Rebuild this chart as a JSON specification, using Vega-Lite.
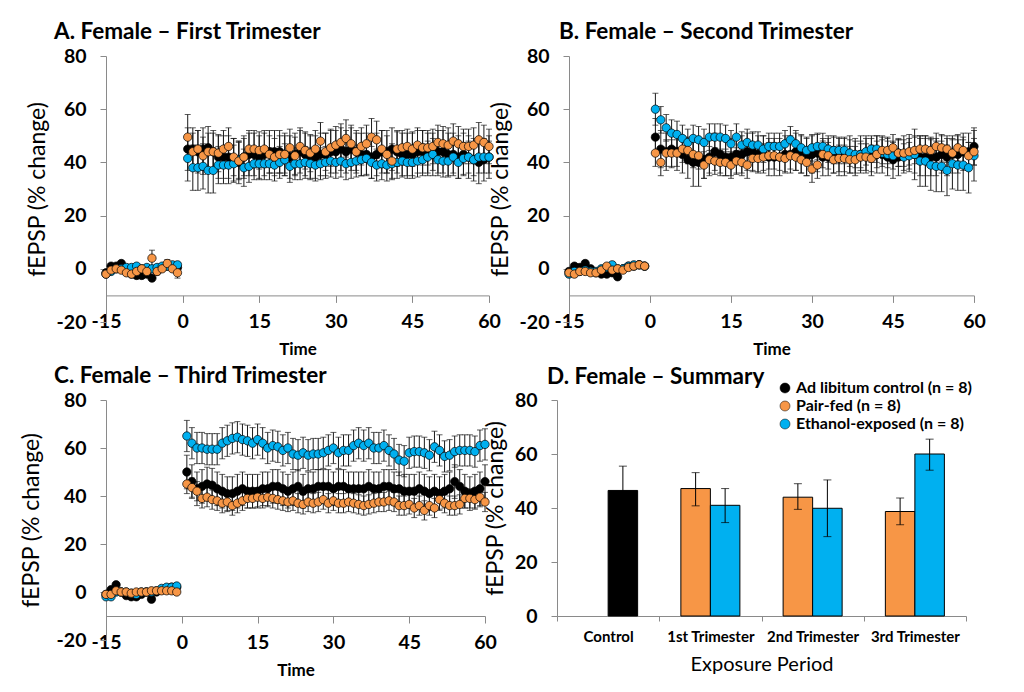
{
"$schema":"https://vega.github.io/schema/vega-lite/v6.json",
"padding":{"left":20,"top":20,"right":5,"bottom":5},
"config":{"font":"Lato","view":{"stroke":null},"axis":{"grid":false,"domainColor":"#8a8a8a","tickColor":"#8a8a8a","labelColor":"black","titleColor":"black","labelFont":"Lato","titleFont":"Lato"}},
"resolve":{"scale":{"color":"independent"},"legend":{"color":"independent"}},
"datasets":{
"dA":[
{"g":"C","t":-15,"y":-1.5,"e":1},{"g":"C","t":-14,"y":1,"e":1},{"g":"C","t":-13,"y":1,"e":1},{"g":"C","t":-12,"y":2,"e":1},{"g":"C","t":-11,"y":0,"e":1},{"g":"C","t":-10,"y":-2,"e":1},{"g":"C","t":-9,"y":-2.5,"e":1},{"g":"C","t":-8,"y":-2.5,"e":1},{"g":"C","t":-7,"y":-2,"e":1},{"g":"C","t":-6,"y":-3.5,"e":1},{"g":"C","t":-5,"y":-1,"e":1},{"g":"C","t":-4,"y":0.5,"e":1},{"g":"C","t":-3,"y":1,"e":1},{"g":"C","t":-2,"y":1,"e":1},{"g":"C","t":-1,"y":0.5,"e":1},
{"g":"C","t":1,"y":45,"e":8},{"g":"C","t":2,"y":45,"e":8},{"g":"C","t":3,"y":44,"e":8},{"g":"C","t":4,"y":45,"e":8},{"g":"C","t":5,"y":45.5,"e":8},{"g":"C","t":6,"y":44,"e":8},{"g":"C","t":7,"y":42,"e":8},{"g":"C","t":8,"y":42,"e":8},{"g":"C","t":9,"y":42,"e":8},{"g":"C","t":10,"y":41,"e":8},
{"g":"C","t":11,"y":40,"e":8},{"g":"C","t":12,"y":42,"e":8},{"g":"C","t":13,"y":43,"e":8},{"g":"C","t":14,"y":43,"e":8},{"g":"C","t":15,"y":42,"e":8},{"g":"C","t":16,"y":43,"e":8},{"g":"C","t":17,"y":44,"e":8},{"g":"C","t":18,"y":44,"e":8},{"g":"C","t":19,"y":44,"e":8},{"g":"C","t":20,"y":43,"e":8},
{"g":"C","t":21,"y":42,"e":8},{"g":"C","t":22,"y":43,"e":8},{"g":"C","t":23,"y":44,"e":8},{"g":"C","t":24,"y":43,"e":8},{"g":"C","t":25,"y":42,"e":8},{"g":"C","t":26,"y":42,"e":8},{"g":"C","t":27,"y":43,"e":8},{"g":"C","t":28,"y":43,"e":8},{"g":"C","t":29,"y":44,"e":8},{"g":"C","t":30,"y":44,"e":8},
{"g":"C","t":31,"y":45,"e":8},{"g":"C","t":32,"y":44,"e":8},{"g":"C","t":33,"y":45,"e":8},{"g":"C","t":34,"y":44,"e":8},{"g":"C","t":35,"y":43,"e":8},{"g":"C","t":36,"y":43,"e":8},{"g":"C","t":37,"y":42,"e":8},{"g":"C","t":38,"y":43,"e":8},{"g":"C","t":39,"y":44,"e":8},{"g":"C","t":40,"y":44,"e":8},
{"g":"C","t":41,"y":45,"e":8},{"g":"C","t":42,"y":44,"e":8},{"g":"C","t":43,"y":43,"e":8},{"g":"C","t":44,"y":43,"e":8},{"g":"C","t":45,"y":43,"e":8},{"g":"C","t":46,"y":44,"e":8},{"g":"C","t":47,"y":44,"e":8},{"g":"C","t":48,"y":43,"e":8},{"g":"C","t":49,"y":43,"e":8},{"g":"C","t":50,"y":44,"e":8},
{"g":"C","t":51,"y":44,"e":8},{"g":"C","t":52,"y":43,"e":8},{"g":"C","t":53,"y":43,"e":8},{"g":"C","t":54,"y":42,"e":8},{"g":"C","t":55,"y":43,"e":8},{"g":"C","t":56,"y":42,"e":8},{"g":"C","t":57,"y":41,"e":8},{"g":"C","t":58,"y":40,"e":8},{"g":"C","t":59,"y":41,"e":8},{"g":"C","t":60,"y":42,"e":8},
{"g":"E","t":-15,"y":-2,"e":1},{"g":"E","t":-14,"y":-1,"e":1},{"g":"E","t":-13,"y":0,"e":1},{"g":"E","t":-12,"y":0,"e":1},{"g":"E","t":-11,"y":0.5,"e":1},{"g":"E","t":-10,"y":0.5,"e":1},{"g":"E","t":-9,"y":1,"e":1},{"g":"E","t":-8,"y":0,"e":1},{"g":"E","t":-7,"y":0.5,"e":1},{"g":"E","t":-6,"y":0,"e":1},{"g":"E","t":-5,"y":0.5,"e":1},{"g":"E","t":-4,"y":1,"e":1},{"g":"E","t":-3,"y":1,"e":1},{"g":"E","t":-2,"y":1.5,"e":1},{"g":"E","t":-1,"y":1.5,"e":1},
{"g":"E","t":1,"y":41.5,"e":8.5},{"g":"E","t":2,"y":38,"e":8.5},{"g":"E","t":3,"y":38,"e":8.5},{"g":"E","t":4,"y":38.5,"e":8.5},{"g":"E","t":5,"y":37,"e":8.5},{"g":"E","t":6,"y":37,"e":8.5},{"g":"E","t":7,"y":39,"e":7},{"g":"E","t":8,"y":39,"e":7},{"g":"E","t":9,"y":39,"e":7},{"g":"E","t":10,"y":39.5,"e":7},
{"g":"E","t":11,"y":41,"e":7},{"g":"E","t":12,"y":38,"e":7},{"g":"E","t":13,"y":38.5,"e":6},{"g":"E","t":14,"y":39.5,"e":6},{"g":"E","t":15,"y":39.5,"e":6},{"g":"E","t":16,"y":39.5,"e":6},{"g":"E","t":17,"y":39.5,"e":6},{"g":"E","t":18,"y":39,"e":6},{"g":"E","t":19,"y":40,"e":6},{"g":"E","t":20,"y":41,"e":6},
{"g":"E","t":21,"y":38.5,"e":6},{"g":"E","t":22,"y":39.5,"e":6},{"g":"E","t":23,"y":39.5,"e":6},{"g":"E","t":24,"y":40,"e":6},{"g":"E","t":25,"y":39.5,"e":6},{"g":"E","t":26,"y":39,"e":6},{"g":"E","t":27,"y":39.5,"e":6},{"g":"E","t":28,"y":40,"e":6},{"g":"E","t":29,"y":40.5,"e":6},{"g":"E","t":30,"y":40,"e":6},
{"g":"E","t":31,"y":40.5,"e":6},{"g":"E","t":32,"y":39.5,"e":6},{"g":"E","t":33,"y":40,"e":6},{"g":"E","t":34,"y":40.5,"e":6},{"g":"E","t":35,"y":41,"e":6},{"g":"E","t":36,"y":41.5,"e":6},{"g":"E","t":37,"y":40,"e":6},{"g":"E","t":38,"y":39,"e":6},{"g":"E","t":39,"y":39.5,"e":6},{"g":"E","t":40,"y":39,"e":6},
{"g":"E","t":41,"y":39.5,"e":6},{"g":"E","t":42,"y":40,"e":6},{"g":"E","t":43,"y":40.5,"e":6},{"g":"E","t":44,"y":40,"e":6},{"g":"E","t":45,"y":40,"e":6},{"g":"E","t":46,"y":40.5,"e":6},{"g":"E","t":47,"y":41,"e":6},{"g":"E","t":48,"y":42,"e":6},{"g":"E","t":49,"y":43,"e":6},{"g":"E","t":50,"y":41,"e":6},
{"g":"E","t":51,"y":40.5,"e":6},{"g":"E","t":52,"y":40.5,"e":6},{"g":"E","t":53,"y":42,"e":6},{"g":"E","t":54,"y":40,"e":6},{"g":"E","t":55,"y":41.5,"e":6},{"g":"E","t":56,"y":42,"e":6},{"g":"E","t":57,"y":41,"e":6},{"g":"E","t":58,"y":42,"e":6},{"g":"E","t":59,"y":42,"e":6},{"g":"E","t":60,"y":42,"e":6},
{"g":"P","t":-15,"y":-2,"e":1},{"g":"P","t":-14,"y":-0.5,"e":1},{"g":"P","t":-13,"y":0,"e":1},{"g":"P","t":-12,"y":-0.5,"e":1},{"g":"P","t":-11,"y":-1.5,"e":1},{"g":"P","t":-10,"y":-2,"e":1},{"g":"P","t":-9,"y":-1,"e":1},{"g":"P","t":-8,"y":0,"e":1},{"g":"P","t":-7,"y":-1,"e":1},{"g":"P","t":-6,"y":4,"e":3},{"g":"P","t":-5,"y":-1,"e":1},{"g":"P","t":-4,"y":0,"e":1},{"g":"P","t":-3,"y":2,"e":1.5},{"g":"P","t":-2,"y":0,"e":1},{"g":"P","t":-1,"y":-1.5,"e":2},
{"g":"P","t":1,"y":49.5,"e":8.5},{"g":"P","t":2,"y":44,"e":7},{"g":"P","t":3,"y":45,"e":7},{"g":"P","t":4,"y":42.5,"e":7},{"g":"P","t":5,"y":44,"e":7},{"g":"P","t":6,"y":44,"e":7},{"g":"P","t":7,"y":43.5,"e":7},{"g":"P","t":8,"y":45,"e":7},{"g":"P","t":9,"y":46,"e":7},{"g":"P","t":10,"y":42,"e":7},
{"g":"P","t":11,"y":40.5,"e":7},{"g":"P","t":12,"y":42,"e":7},{"g":"P","t":13,"y":45,"e":7},{"g":"P","t":14,"y":45,"e":7},{"g":"P","t":15,"y":44.5,"e":7},{"g":"P","t":16,"y":45,"e":7},{"g":"P","t":17,"y":43,"e":7},{"g":"P","t":18,"y":42,"e":7},{"g":"P","t":19,"y":43,"e":7},{"g":"P","t":20,"y":43,"e":7},
{"g":"P","t":21,"y":45.5,"e":7},{"g":"P","t":22,"y":42.5,"e":7},{"g":"P","t":23,"y":46,"e":7},{"g":"P","t":24,"y":44.5,"e":7},{"g":"P","t":25,"y":43.5,"e":7},{"g":"P","t":26,"y":45,"e":7},{"g":"P","t":27,"y":48,"e":7},{"g":"P","t":28,"y":44,"e":7},{"g":"P","t":29,"y":45.5,"e":7},{"g":"P","t":30,"y":46.5,"e":7},
{"g":"P","t":31,"y":47.5,"e":7},{"g":"P","t":32,"y":49,"e":7},{"g":"P","t":33,"y":47,"e":7},{"g":"P","t":34,"y":44,"e":7},{"g":"P","t":35,"y":46,"e":7},{"g":"P","t":36,"y":47,"e":7},{"g":"P","t":37,"y":49.5,"e":7},{"g":"P","t":38,"y":48.5,"e":7},{"g":"P","t":39,"y":45,"e":7},{"g":"P","t":40,"y":43,"e":7},
{"g":"P","t":41,"y":40.5,"e":6.5},{"g":"P","t":42,"y":45,"e":6.5},{"g":"P","t":43,"y":45.5,"e":6.5},{"g":"P","t":44,"y":46,"e":6.5},{"g":"P","t":45,"y":45,"e":6.5},{"g":"P","t":46,"y":46.5,"e":6.5},{"g":"P","t":47,"y":45.5,"e":6.5},{"g":"P","t":48,"y":45.5,"e":6.5},{"g":"P","t":49,"y":46,"e":6.5},{"g":"P","t":50,"y":47.5,"e":6.5},
{"g":"P","t":51,"y":47,"e":6.5},{"g":"P","t":52,"y":46.5,"e":6.5},{"g":"P","t":53,"y":48,"e":6.5},{"g":"P","t":54,"y":47,"e":6.5},{"g":"P","t":55,"y":46,"e":6.5},{"g":"P","t":56,"y":46,"e":6.5},{"g":"P","t":57,"y":46.5,"e":6.5},{"g":"P","t":58,"y":48.5,"e":6.5},{"g":"P","t":59,"y":47.5,"e":6.5},{"g":"P","t":60,"y":46,"e":6.5}
],
"dB":[
{"g":"C","t":-15,"y":-1,"e":1},{"g":"C","t":-14,"y":1,"e":1},{"g":"C","t":-13,"y":0.5,"e":1},{"g":"C","t":-12,"y":2,"e":1},{"g":"C","t":-11,"y":0,"e":1},{"g":"C","t":-10,"y":-1.5,"e":1},{"g":"C","t":-9,"y":-2,"e":1},{"g":"C","t":-8,"y":-2,"e":1},{"g":"C","t":-7,"y":-1.5,"e":1},{"g":"C","t":-6,"y":-3,"e":1},{"g":"C","t":-5,"y":0,"e":1},{"g":"C","t":-4,"y":1,"e":1},{"g":"C","t":-3,"y":1,"e":1},{"g":"C","t":-2,"y":1.5,"e":1},{"g":"C","t":-1,"y":1,"e":1},
{"g":"C","t":1,"y":49.5,"e":7},{"g":"C","t":2,"y":45,"e":7},{"g":"C","t":3,"y":44,"e":7},{"g":"C","t":4,"y":45,"e":7},{"g":"C","t":5,"y":44,"e":7},{"g":"C","t":6,"y":43,"e":7},{"g":"C","t":7,"y":41,"e":7},{"g":"C","t":8,"y":40,"e":9},{"g":"C","t":9,"y":40,"e":9},{"g":"C","t":10,"y":41,"e":7},
{"g":"C","t":11,"y":42,"e":7},{"g":"C","t":12,"y":44,"e":7},{"g":"C","t":13,"y":43,"e":7},{"g":"C","t":14,"y":42,"e":7},{"g":"C","t":15,"y":42,"e":7},{"g":"C","t":16,"y":43,"e":7},{"g":"C","t":17,"y":43,"e":7},{"g":"C","t":18,"y":44,"e":7},{"g":"C","t":19,"y":44,"e":7},{"g":"C","t":20,"y":43,"e":7},
{"g":"C","t":21,"y":43,"e":7},{"g":"C","t":22,"y":42,"e":7},{"g":"C","t":23,"y":42,"e":7},{"g":"C","t":24,"y":42,"e":7},{"g":"C","t":25,"y":43,"e":7},{"g":"C","t":26,"y":43,"e":7},{"g":"C","t":27,"y":44,"e":7},{"g":"C","t":28,"y":43,"e":7},{"g":"C","t":29,"y":42,"e":7},{"g":"C","t":30,"y":43,"e":7},
{"g":"C","t":31,"y":43.5,"e":7},{"g":"C","t":32,"y":42,"e":7},{"g":"C","t":33,"y":42,"e":7},{"g":"C","t":34,"y":43,"e":7},{"g":"C","t":35,"y":42,"e":7},{"g":"C","t":36,"y":42,"e":7},{"g":"C","t":37,"y":43,"e":7},{"g":"C","t":38,"y":42,"e":7},{"g":"C","t":39,"y":43,"e":7},{"g":"C","t":40,"y":43,"e":7},
{"g":"C","t":41,"y":42,"e":7},{"g":"C","t":42,"y":43,"e":7},{"g":"C","t":43,"y":43,"e":7},{"g":"C","t":44,"y":42,"e":7},{"g":"C","t":45,"y":41,"e":7},{"g":"C","t":46,"y":42,"e":7},{"g":"C","t":47,"y":43,"e":7},{"g":"C","t":48,"y":43.5,"e":7},{"g":"C","t":49,"y":43,"e":7},{"g":"C","t":50,"y":42,"e":7},
{"g":"C","t":51,"y":42,"e":7},{"g":"C","t":52,"y":42,"e":7},{"g":"C","t":53,"y":42,"e":7},{"g":"C","t":54,"y":43,"e":7},{"g":"C","t":55,"y":42,"e":7},{"g":"C","t":56,"y":43,"e":7},{"g":"C","t":57,"y":43,"e":7},{"g":"C","t":58,"y":44,"e":7},{"g":"C","t":59,"y":44,"e":7},{"g":"C","t":60,"y":46,"e":7},
{"g":"E","t":-15,"y":-2,"e":1},{"g":"E","t":-14,"y":-1,"e":1},{"g":"E","t":-13,"y":-1,"e":1},{"g":"E","t":-12,"y":-0.5,"e":1},{"g":"E","t":-11,"y":-1,"e":1},{"g":"E","t":-10,"y":-1,"e":1},{"g":"E","t":-9,"y":0,"e":1},{"g":"E","t":-8,"y":0.5,"e":1},{"g":"E","t":-7,"y":1.5,"e":1},{"g":"E","t":-6,"y":0,"e":1},{"g":"E","t":-5,"y":0,"e":1},{"g":"E","t":-4,"y":1,"e":1},{"g":"E","t":-3,"y":1.5,"e":1},{"g":"E","t":-2,"y":1.5,"e":1},{"g":"E","t":-1,"y":1,"e":1},
{"g":"E","t":1,"y":60,"e":6},{"g":"E","t":2,"y":56,"e":5},{"g":"E","t":3,"y":53,"e":5},{"g":"E","t":4,"y":51,"e":5},{"g":"E","t":5,"y":50.5,"e":5},{"g":"E","t":6,"y":49,"e":5},{"g":"E","t":7,"y":47.5,"e":5},{"g":"E","t":8,"y":49,"e":5},{"g":"E","t":9,"y":48.5,"e":5},{"g":"E","t":10,"y":47.5,"e":5},
{"g":"E","t":11,"y":49.5,"e":5},{"g":"E","t":12,"y":49.5,"e":5},{"g":"E","t":13,"y":49.5,"e":5},{"g":"E","t":14,"y":49,"e":5},{"g":"E","t":15,"y":47,"e":5},{"g":"E","t":16,"y":49.5,"e":5},{"g":"E","t":17,"y":46.5,"e":5},{"g":"E","t":18,"y":47.5,"e":5},{"g":"E","t":19,"y":46.5,"e":5},{"g":"E","t":20,"y":46.5,"e":5},
{"g":"E","t":21,"y":45,"e":5},{"g":"E","t":22,"y":46,"e":5},{"g":"E","t":23,"y":46,"e":5},{"g":"E","t":24,"y":46,"e":5},{"g":"E","t":25,"y":47,"e":5},{"g":"E","t":26,"y":48.5,"e":5},{"g":"E","t":27,"y":47,"e":5},{"g":"E","t":28,"y":45.5,"e":5},{"g":"E","t":29,"y":44.5,"e":5},{"g":"E","t":30,"y":45.5,"e":5},
{"g":"E","t":31,"y":46,"e":5},{"g":"E","t":32,"y":46,"e":5},{"g":"E","t":33,"y":45,"e":5},{"g":"E","t":34,"y":44.5,"e":5},{"g":"E","t":35,"y":44.5,"e":5},{"g":"E","t":36,"y":44.5,"e":5},{"g":"E","t":37,"y":43.5,"e":5},{"g":"E","t":38,"y":43,"e":5},{"g":"E","t":39,"y":43,"e":5},{"g":"E","t":40,"y":44,"e":5},
{"g":"E","t":41,"y":45,"e":5},{"g":"E","t":42,"y":45,"e":5},{"g":"E","t":43,"y":43.5,"e":5},{"g":"E","t":44,"y":43,"e":5},{"g":"E","t":45,"y":42.5,"e":5},{"g":"E","t":46,"y":43.5,"e":5},{"g":"E","t":47,"y":42,"e":5},{"g":"E","t":48,"y":42.5,"e":5},{"g":"E","t":49,"y":43,"e":9.5},{"g":"E","t":50,"y":40.5,"e":9.5},
{"g":"E","t":51,"y":40.5,"e":9.5},{"g":"E","t":52,"y":39,"e":9.5},{"g":"E","t":53,"y":38.5,"e":9.5},{"g":"E","t":54,"y":38.5,"e":9.5},{"g":"E","t":55,"y":37,"e":9.5},{"g":"E","t":56,"y":39.5,"e":9.5},{"g":"E","t":57,"y":39,"e":9.5},{"g":"E","t":58,"y":39,"e":9.5},{"g":"E","t":59,"y":38,"e":9.5},{"g":"E","t":60,"y":42.5,"e":9.5},
{"g":"P","t":-15,"y":-1.5,"e":1},{"g":"P","t":-14,"y":-2,"e":1},{"g":"P","t":-13,"y":-1,"e":1},{"g":"P","t":-12,"y":-1,"e":1},{"g":"P","t":-11,"y":-1.5,"e":1},{"g":"P","t":-10,"y":-1.5,"e":1},{"g":"P","t":-9,"y":-0.5,"e":1},{"g":"P","t":-8,"y":1,"e":1},{"g":"P","t":-7,"y":-0.5,"e":1},{"g":"P","t":-6,"y":0,"e":1},{"g":"P","t":-5,"y":-0.5,"e":1},{"g":"P","t":-4,"y":0.5,"e":1},{"g":"P","t":-3,"y":1,"e":1},{"g":"P","t":-2,"y":1.5,"e":1},{"g":"P","t":-1,"y":1,"e":1},
{"g":"P","t":1,"y":43.5,"e":5},{"g":"P","t":2,"y":40,"e":5},{"g":"P","t":3,"y":43.5,"e":5},{"g":"P","t":4,"y":43.5,"e":5},{"g":"P","t":5,"y":43.5,"e":5},{"g":"P","t":6,"y":45,"e":5},{"g":"P","t":7,"y":44.5,"e":5},{"g":"P","t":8,"y":43,"e":5},{"g":"P","t":9,"y":42.5,"e":5},{"g":"P","t":10,"y":39,"e":5},
{"g":"P","t":11,"y":41,"e":5},{"g":"P","t":12,"y":40.5,"e":5},{"g":"P","t":13,"y":40,"e":5},{"g":"P","t":14,"y":40,"e":5},{"g":"P","t":15,"y":39,"e":5},{"g":"P","t":16,"y":40.5,"e":5},{"g":"P","t":17,"y":40,"e":5},{"g":"P","t":18,"y":39,"e":5},{"g":"P","t":19,"y":41.5,"e":5},{"g":"P","t":20,"y":41.5,"e":5},
{"g":"P","t":21,"y":42,"e":5},{"g":"P","t":22,"y":42.5,"e":5},{"g":"P","t":23,"y":42.5,"e":5},{"g":"P","t":24,"y":42,"e":5},{"g":"P","t":25,"y":41.5,"e":5},{"g":"P","t":26,"y":42.5,"e":5},{"g":"P","t":27,"y":42,"e":5},{"g":"P","t":28,"y":41,"e":5},{"g":"P","t":29,"y":40,"e":5},{"g":"P","t":30,"y":37.5,"e":5},
{"g":"P","t":31,"y":39,"e":5},{"g":"P","t":32,"y":43,"e":5},{"g":"P","t":33,"y":42.5,"e":5},{"g":"P","t":34,"y":41,"e":5},{"g":"P","t":35,"y":41.5,"e":5},{"g":"P","t":36,"y":41.5,"e":5},{"g":"P","t":37,"y":41,"e":5},{"g":"P","t":38,"y":41,"e":5},{"g":"P","t":39,"y":42,"e":5},{"g":"P","t":40,"y":42,"e":5},
{"g":"P","t":41,"y":41.5,"e":5},{"g":"P","t":42,"y":43,"e":5},{"g":"P","t":43,"y":44.5,"e":5},{"g":"P","t":44,"y":44.5,"e":5},{"g":"P","t":45,"y":45.5,"e":5},{"g":"P","t":46,"y":43.5,"e":5},{"g":"P","t":47,"y":43.5,"e":5},{"g":"P","t":48,"y":44,"e":5},{"g":"P","t":49,"y":44.5,"e":5},{"g":"P","t":50,"y":45,"e":5},
{"g":"P","t":51,"y":45,"e":5},{"g":"P","t":52,"y":44.5,"e":5},{"g":"P","t":53,"y":46,"e":5},{"g":"P","t":54,"y":45.5,"e":5},{"g":"P","t":55,"y":45,"e":5},{"g":"P","t":56,"y":43.5,"e":5},{"g":"P","t":57,"y":45.5,"e":5},{"g":"P","t":58,"y":44.5,"e":5},{"g":"P","t":59,"y":42.5,"e":5},{"g":"P","t":60,"y":44,"e":5}
],
"dC":[
{"g":"C","t":-15,"y":-1,"e":1},{"g":"C","t":-14,"y":1,"e":1},{"g":"C","t":-13,"y":3,"e":1},{"g":"C","t":-12,"y":0,"e":1},{"g":"C","t":-11,"y":-1.5,"e":1},{"g":"C","t":-10,"y":-2,"e":1},{"g":"C","t":-9,"y":-2,"e":1},{"g":"C","t":-8,"y":-1,"e":1},{"g":"C","t":-7,"y":0,"e":1},{"g":"C","t":-6,"y":-3,"e":1},{"g":"C","t":-5,"y":0,"e":1},{"g":"C","t":-4,"y":1,"e":1},{"g":"C","t":-3,"y":1.5,"e":1},{"g":"C","t":-2,"y":2,"e":1},{"g":"C","t":-1,"y":2,"e":1},
{"g":"C","t":1,"y":50,"e":7},{"g":"C","t":2,"y":46,"e":7},{"g":"C","t":3,"y":43,"e":7},{"g":"C","t":4,"y":44,"e":7},{"g":"C","t":5,"y":45,"e":7},{"g":"C","t":6,"y":44.5,"e":7},{"g":"C","t":7,"y":43,"e":7},{"g":"C","t":8,"y":42,"e":7},{"g":"C","t":9,"y":41,"e":7},{"g":"C","t":10,"y":41,"e":7},
{"g":"C","t":11,"y":42,"e":7},{"g":"C","t":12,"y":43,"e":7},{"g":"C","t":13,"y":42,"e":7},{"g":"C","t":14,"y":42,"e":7},{"g":"C","t":15,"y":42,"e":7},{"g":"C","t":16,"y":43,"e":7},{"g":"C","t":17,"y":43,"e":7},{"g":"C","t":18,"y":44,"e":7},{"g":"C","t":19,"y":44,"e":7},{"g":"C","t":20,"y":43,"e":7},
{"g":"C","t":21,"y":42,"e":7},{"g":"C","t":22,"y":43,"e":7},{"g":"C","t":23,"y":44,"e":7},{"g":"C","t":24,"y":42,"e":7},{"g":"C","t":25,"y":43,"e":7},{"g":"C","t":26,"y":43,"e":7},{"g":"C","t":27,"y":44,"e":7},{"g":"C","t":28,"y":44,"e":7},{"g":"C","t":29,"y":44,"e":7},{"g":"C","t":30,"y":43,"e":7},
{"g":"C","t":31,"y":44,"e":7},{"g":"C","t":32,"y":44,"e":7},{"g":"C","t":33,"y":43,"e":7},{"g":"C","t":34,"y":43,"e":7},{"g":"C","t":35,"y":43,"e":7},{"g":"C","t":36,"y":43,"e":7},{"g":"C","t":37,"y":44,"e":7},{"g":"C","t":38,"y":43,"e":7},{"g":"C","t":39,"y":43,"e":7},{"g":"C","t":40,"y":44,"e":7},
{"g":"C","t":41,"y":44,"e":7},{"g":"C","t":42,"y":43,"e":7},{"g":"C","t":43,"y":43,"e":7},{"g":"C","t":44,"y":42,"e":7},{"g":"C","t":45,"y":42,"e":7},{"g":"C","t":46,"y":42,"e":7},{"g":"C","t":47,"y":43,"e":7},{"g":"C","t":48,"y":42,"e":7},{"g":"C","t":49,"y":41,"e":7},{"g":"C","t":50,"y":42,"e":7},
{"g":"C","t":51,"y":41,"e":7},{"g":"C","t":52,"y":42,"e":7},{"g":"C","t":53,"y":43,"e":7},{"g":"C","t":54,"y":46,"e":7},{"g":"C","t":55,"y":44,"e":7},{"g":"C","t":56,"y":42,"e":7},{"g":"C","t":57,"y":41,"e":7},{"g":"C","t":58,"y":42,"e":7},{"g":"C","t":59,"y":43,"e":7},{"g":"C","t":60,"y":46,"e":7},
{"g":"E","t":-15,"y":-2,"e":1},{"g":"E","t":-14,"y":-2,"e":1},{"g":"E","t":-13,"y":0,"e":1},{"g":"E","t":-12,"y":0,"e":1},{"g":"E","t":-11,"y":0,"e":1},{"g":"E","t":-10,"y":-0.5,"e":1},{"g":"E","t":-9,"y":-1,"e":1},{"g":"E","t":-8,"y":0,"e":1},{"g":"E","t":-7,"y":0,"e":1},{"g":"E","t":-6,"y":0,"e":1},{"g":"E","t":-5,"y":0.5,"e":1},{"g":"E","t":-4,"y":1.5,"e":1},{"g":"E","t":-3,"y":2,"e":1},{"g":"E","t":-2,"y":2,"e":1},{"g":"E","t":-1,"y":2.5,"e":1},
{"g":"E","t":1,"y":65,"e":6.5},{"g":"E","t":2,"y":62,"e":6.5},{"g":"E","t":3,"y":60,"e":6.5},{"g":"E","t":4,"y":60,"e":6.5},{"g":"E","t":5,"y":59.5,"e":6.5},{"g":"E","t":6,"y":59.5,"e":6.5},{"g":"E","t":7,"y":59.5,"e":6.5},{"g":"E","t":8,"y":62,"e":6.5},{"g":"E","t":9,"y":63,"e":6.5},{"g":"E","t":10,"y":64,"e":6.5},
{"g":"E","t":11,"y":64.5,"e":6.5},{"g":"E","t":12,"y":63.5,"e":6.5},{"g":"E","t":13,"y":63,"e":6.5},{"g":"E","t":14,"y":62,"e":6.5},{"g":"E","t":15,"y":63.5,"e":6.5},{"g":"E","t":16,"y":62,"e":6.5},{"g":"E","t":17,"y":60,"e":6.5},{"g":"E","t":18,"y":61,"e":6.5},{"g":"E","t":19,"y":60.5,"e":6.5},{"g":"E","t":20,"y":59,"e":6.5},
{"g":"E","t":21,"y":60,"e":6.5},{"g":"E","t":22,"y":57.5,"e":6.5},{"g":"E","t":23,"y":57,"e":6.5},{"g":"E","t":24,"y":58,"e":6.5},{"g":"E","t":25,"y":57,"e":6.5},{"g":"E","t":26,"y":57.5,"e":6.5},{"g":"E","t":27,"y":57.5,"e":6.5},{"g":"E","t":28,"y":58,"e":6.5},{"g":"E","t":29,"y":59,"e":6.5},{"g":"E","t":30,"y":60,"e":6.5},
{"g":"E","t":31,"y":58,"e":6.5},{"g":"E","t":32,"y":59,"e":6.5},{"g":"E","t":33,"y":59,"e":6.5},{"g":"E","t":34,"y":61,"e":6.5},{"g":"E","t":35,"y":62,"e":6.5},{"g":"E","t":36,"y":61,"e":6.5},{"g":"E","t":37,"y":62,"e":6.5},{"g":"E","t":38,"y":60,"e":6.5},{"g":"E","t":39,"y":60,"e":6.5},{"g":"E","t":40,"y":61,"e":6.5},
{"g":"E","t":41,"y":59,"e":6.5},{"g":"E","t":42,"y":57.5,"e":6.5},{"g":"E","t":43,"y":55,"e":6.5},{"g":"E","t":44,"y":54.5,"e":6.5},{"g":"E","t":45,"y":58,"e":6.5},{"g":"E","t":46,"y":58.5,"e":6.5},{"g":"E","t":47,"y":58.5,"e":6.5},{"g":"E","t":48,"y":58,"e":6.5},{"g":"E","t":49,"y":57,"e":6.5},{"g":"E","t":50,"y":60.5,"e":6.5},
{"g":"E","t":51,"y":59,"e":6.5},{"g":"E","t":52,"y":56.5,"e":6.5},{"g":"E","t":53,"y":57,"e":6.5},{"g":"E","t":54,"y":58.5,"e":6.5},{"g":"E","t":55,"y":59,"e":6.5},{"g":"E","t":56,"y":59,"e":6.5},{"g":"E","t":57,"y":59,"e":6.5},{"g":"E","t":58,"y":58.5,"e":6.5},{"g":"E","t":59,"y":61,"e":6.5},{"g":"E","t":60,"y":61.5,"e":6.5},
{"g":"P","t":-15,"y":-1,"e":1},{"g":"P","t":-14,"y":-1,"e":1},{"g":"P","t":-13,"y":0.5,"e":1},{"g":"P","t":-12,"y":0,"e":1},{"g":"P","t":-11,"y":0,"e":1},{"g":"P","t":-10,"y":-0.5,"e":1},{"g":"P","t":-9,"y":0,"e":1},{"g":"P","t":-8,"y":0,"e":1},{"g":"P","t":-7,"y":0,"e":1},{"g":"P","t":-6,"y":0.5,"e":1},{"g":"P","t":-5,"y":0.5,"e":1},{"g":"P","t":-4,"y":0.5,"e":1},{"g":"P","t":-3,"y":0.5,"e":1},{"g":"P","t":-2,"y":0.5,"e":1},{"g":"P","t":-1,"y":0,"e":1},
{"g":"P","t":1,"y":45,"e":4},{"g":"P","t":2,"y":43.5,"e":4},{"g":"P","t":3,"y":42,"e":4},{"g":"P","t":4,"y":39,"e":4},{"g":"P","t":5,"y":39.5,"e":4},{"g":"P","t":6,"y":38.5,"e":4},{"g":"P","t":7,"y":38,"e":4},{"g":"P","t":8,"y":37,"e":4},{"g":"P","t":9,"y":37.5,"e":4},{"g":"P","t":10,"y":36,"e":4},
{"g":"P","t":11,"y":37,"e":4},{"g":"P","t":12,"y":38,"e":4},{"g":"P","t":13,"y":39,"e":4},{"g":"P","t":14,"y":39,"e":4},{"g":"P","t":15,"y":39.5,"e":4},{"g":"P","t":16,"y":39,"e":4},{"g":"P","t":17,"y":39.5,"e":4},{"g":"P","t":18,"y":39,"e":4},{"g":"P","t":19,"y":38.5,"e":4},{"g":"P","t":20,"y":38,"e":4},
{"g":"P","t":21,"y":37.5,"e":4},{"g":"P","t":22,"y":38,"e":4},{"g":"P","t":23,"y":37,"e":4},{"g":"P","t":24,"y":36.5,"e":4},{"g":"P","t":25,"y":37.5,"e":4},{"g":"P","t":26,"y":37,"e":4},{"g":"P","t":27,"y":37.5,"e":4},{"g":"P","t":28,"y":38.5,"e":4},{"g":"P","t":29,"y":37,"e":4},{"g":"P","t":30,"y":38,"e":4},
{"g":"P","t":31,"y":37,"e":4},{"g":"P","t":32,"y":37,"e":4},{"g":"P","t":33,"y":37.5,"e":4},{"g":"P","t":34,"y":37,"e":4},{"g":"P","t":35,"y":36.5,"e":4},{"g":"P","t":36,"y":36,"e":4},{"g":"P","t":37,"y":36.5,"e":4},{"g":"P","t":38,"y":37,"e":4},{"g":"P","t":39,"y":37.5,"e":4},{"g":"P","t":40,"y":37.5,"e":4},
{"g":"P","t":41,"y":38,"e":4},{"g":"P","t":42,"y":37.5,"e":4},{"g":"P","t":43,"y":36,"e":4},{"g":"P","t":44,"y":36,"e":4},{"g":"P","t":45,"y":36.5,"e":4},{"g":"P","t":46,"y":35,"e":4},{"g":"P","t":47,"y":36,"e":4},{"g":"P","t":48,"y":34,"e":4},{"g":"P","t":49,"y":36,"e":4},{"g":"P","t":50,"y":35,"e":4},
{"g":"P","t":51,"y":38.5,"e":4},{"g":"P","t":52,"y":37,"e":4},{"g":"P","t":53,"y":36,"e":4},{"g":"P","t":54,"y":36,"e":4},{"g":"P","t":55,"y":36.5,"e":4},{"g":"P","t":56,"y":39,"e":4},{"g":"P","t":57,"y":39,"e":4},{"g":"P","t":58,"y":38.5,"e":4},{"g":"P","t":59,"y":39.5,"e":4},{"g":"P","t":60,"y":37.5,"e":4}
],
"bars":[
{"cat":"Control","s":"R","g":"C","v":46.5,"lo":37.5,"hi":55.5},
{"cat":"1st Trimester","s":"L","g":"P","v":47.2,"lo":40.8,"hi":53.1},
{"cat":"1st Trimester","s":"R","g":"E","v":41,"lo":34.6,"hi":47.2},
{"cat":"2nd Trimester","s":"L","g":"P","v":44,"lo":39.5,"hi":49},
{"cat":"2nd Trimester","s":"R","g":"E","v":39.9,"lo":29.4,"hi":50.4},
{"cat":"3rd Trimester","s":"L","g":"P","v":38.7,"lo":33.8,"hi":43.7},
{"cat":"3rd Trimester","s":"R","g":"E","v":60,"lo":54,"hi":65.5}
]
},
"spacing":6,
"vconcat":[
{"spacing":-12,"resolve":{"scale":{"color":"independent"},"legend":{"color":"independent"}},"hconcat":[
{"width":383,"height":266,
"title":{"text":"A. Female – First Trimester","anchor":"start","frame":"group","dx":-52,"offset":3,"fontSize":22.5,"fontWeight":"bold","font":"Lato","color":"black"},
"data":{"name":"dA"},
"encoding":{
"x":{"field":"t","type":"quantitative","scale":{"domain":[-15,60],"nice":false,"zero":false},"axis":{"values":[-15,0,15,30,45,60],"labelFlush":false,"labelExpr":"replace(datum.label,'\u2212','-')","title":"Time","offset":-26.6,"tickSize":7,"labelPadding":10,"titlePadding":11,"labelFontSize":19.5,"labelFontWeight":"bold","titleFontSize":17,"titleFontWeight":"bold"}},
"y":{"field":"y","type":"quantitative","scale":{"domain":[-20,80],"nice":false,"zero":false},"axis":{"values":[-20,0,20,40,60,80],"labelExpr":"replace(datum.label,'\u2212','-')","title":"fEPSP (% change)","tickSize":6,"labelPadding":14,"titlePadding":7,"labelFontSize":19.5,"labelFontWeight":"bold","titleFontSize":23,"titleFontWeight":"normal"}}},
"layer":[
{"mark":{"type":"errorbar","ticks":{"size":6},"color":"#1a1a1a","thickness":1},"encoding":{"yError":{"field":"e"}}},
{"mark":{"type":"circle","size":70,"opacity":1,"stroke":"black","strokeWidth":0.7},"encoding":{"color":{"field":"g","type":"nominal","scale":{"domain":["C","P","E"],"range":["black","#F79646","#00B0F0"]},"legend":null}}}
]},
{"width":405,"height":266,
"title":{"text":"B. Female – Second Trimester","anchor":"start","frame":"group","dx":-10,"offset":3,"fontSize":22.5,"fontWeight":"bold","font":"Lato","color":"black"},
"data":{"name":"dB"},
"encoding":{
"x":{"field":"t","type":"quantitative","scale":{"domain":[-15,60],"nice":false,"zero":false},"axis":{"values":[-15,0,15,30,45,60],"labelFlush":false,"labelExpr":"replace(datum.label,'\u2212','-')","title":"Time","offset":-26.6,"tickSize":7,"labelPadding":10,"titlePadding":11,"labelFontSize":19.5,"labelFontWeight":"bold","titleFontSize":17,"titleFontWeight":"bold"}},
"y":{"field":"y","type":"quantitative","scale":{"domain":[-20,80],"nice":false,"zero":false},"axis":{"values":[-20,0,20,40,60,80],"labelExpr":"replace(datum.label,'\u2212','-')","title":"fEPSP (% change)","tickSize":6,"labelPadding":14,"titlePadding":7,"labelFontSize":19.5,"labelFontWeight":"bold","titleFontSize":23,"titleFontWeight":"normal"}}},
"layer":[
{"mark":{"type":"errorbar","ticks":{"size":6},"color":"#1a1a1a","thickness":1},"encoding":{"yError":{"field":"e"}}},
{"mark":{"type":"circle","size":70,"opacity":1,"stroke":"black","strokeWidth":0.7},"encoding":{"color":{"field":"g","type":"nominal","scale":{"domain":["C","P","E"],"range":["black","#F79646","#00B0F0"]},"legend":null}}}
]}
]},
{"spacing":-13,"resolve":{"scale":{"color":"independent"},"legend":{"color":"independent"}},"hconcat":[
{"width":379,"height":240,
"title":{"text":"C. Female – Third Trimester","anchor":"start","frame":"group","dx":-52,"offset":3,"fontSize":22.5,"fontWeight":"bold","font":"Lato","color":"black"},
"data":{"name":"dC"},
"encoding":{
"x":{"field":"t","type":"quantitative","scale":{"domain":[-15,60],"nice":false,"zero":false},"axis":{"values":[-15,0,15,30,45,60],"labelFlush":false,"labelExpr":"replace(datum.label,'\u2212','-')","title":"Time","offset":-24,"tickSize":7,"labelPadding":10,"titlePadding":11,"labelFontSize":19.5,"labelFontWeight":"bold","titleFontSize":17,"titleFontWeight":"bold"}},
"y":{"field":"y","type":"quantitative","scale":{"domain":[-20,80],"nice":false,"zero":false},"axis":{"values":[-20,0,20,40,60,80],"labelExpr":"replace(datum.label,'\u2212','-')","title":"fEPSP (% change)","tickSize":6,"labelPadding":14,"titlePadding":13,"labelFontSize":19.5,"labelFontWeight":"bold","titleFontSize":23,"titleFontWeight":"normal"}}},
"layer":[
{"mark":{"type":"errorbar","ticks":{"size":6},"color":"#1a1a1a","thickness":1},"encoding":{"yError":{"field":"e"}}},
{"mark":{"type":"circle","size":70,"opacity":1,"stroke":"black","strokeWidth":0.7},"encoding":{"color":{"field":"g","type":"nominal","scale":{"domain":["C","P","E"],"range":["black","#F79646","#00B0F0"]},"legend":null}}}
]},
{"width":409,"height":216,
"title":{"text":"D. Female – Summary","anchor":"start","frame":"group","dx":-10,"offset":-8,"fontSize":22.5,"fontWeight":"bold","font":"Lato","color":"black"},
"data":{"name":"bars"},
"encoding":{
"x":{"field":"cat","type":"nominal","sort":["Control","1st Trimester","2nd Trimester","3rd Trimester"],"scale":{"paddingInner":0,"paddingOuter":0},"axis":{"title":"Exposure Period","labelAngle":0,"tickBand":"extent","tickSize":5,"labelPadding":8,"titlePadding":10,"labelFontSize":15,"labelFontWeight":"bold","titleFontSize":20,"titleFontWeight":"normal"}},
"xOffset":{"field":"s","type":"nominal","scale":{"domain":["L","R"],"paddingInner":0,"paddingOuter":0.733}}},
"layer":[
{"mark":{"type":"bar","stroke":"black","strokeWidth":1},"encoding":{
"y":{"field":"v","type":"quantitative","title":"fEPSP (% change)","scale":{"domain":[0,80],"nice":false},"axis":{"values":[0,20,40,60,80],"tickSize":6,"labelPadding":14,"titlePadding":7,"labelFontSize":19.5,"labelFontWeight":"bold","titleFontSize":23,"titleFontWeight":"normal"}},
"color":{"field":"g","type":"nominal","scale":{"domain":["C","P","E"],"range":["black","#F79646","#00B0F0"]},"legend":{"orient":"none","legendX":220,"legendY":-20,"title":null,"symbolType":"circle","symbolSize":100,"symbolStrokeColor":"black","symbolStrokeWidth":0.5,"labelFontSize":16,"labelFontWeight":"bold","labelColor":"black","labelFont":"Lato","labelLimit":400,"rowPadding":2,"labelOffset":3,"labelExpr":"datum.value=='C'?'Ad libitum control (n = 8)':datum.value=='P'?'Pair-fed (n = 8)':'Ethanol-exposed (n = 8)'"}}}},
{"mark":{"type":"rule","color":"black","strokeWidth":1},"encoding":{"y":{"field":"lo","type":"quantitative","title":"fEPSP (% change)"},"y2":{"field":"hi"}}},
{"mark":{"type":"tick","color":"black","thickness":1,"size":8},"encoding":{"y":{"field":"hi","type":"quantitative","title":"fEPSP (% change)"}}},
{"mark":{"type":"tick","color":"black","thickness":1,"size":8},"encoding":{"y":{"field":"lo","type":"quantitative","title":"fEPSP (% change)"}}}
]}
]}
]
}
